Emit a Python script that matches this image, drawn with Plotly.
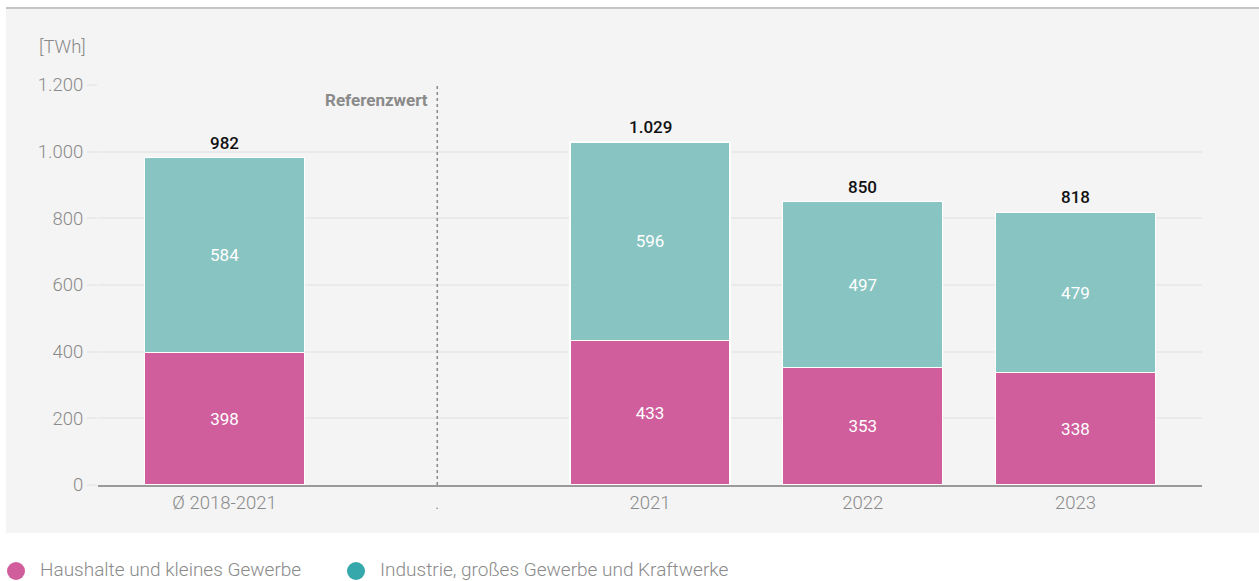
import plotly.graph_objects as go

categories = ["Ø 2018-2021", ".", "2021", "2022", "2023"]
haushalte = [398, None, 433, 353, 338]
industrie = [584, None, 596, 497, 479]
totals = [982, None, 1029, 850, 818]
tick_vals = [0, 200, 400, 600, 800, 1000, 1200]
legend_names = ["Haushalte und kleines Gewerbe", "Industrie, großes Gewerbe und Kraftwerke"]

PINK = "#D05E9C"
TEAL = "#88C4C1"
TEAL_LEG = "#35A8AB"
GRAY = "#8A8A8A"
FONT = "Roboto"

# plot-area geometry (px) used to convert layout decorations to paper coords
L, R, T, B, W, H = 98, 57, 85, 96, 1259, 581
PW, PH = W - L - R, H - T - B


def px(x):
    return (x - L) / PW


def py(y):
    return (H - B - y) / PH


fig = go.Figure()
for vals, col in ((haushalte, PINK), (industrie, TEAL)):
    fig.add_trace(go.Bar(
        x=categories, y=vals, marker=dict(color=col, line=dict(color="white", width=1.2)),
        texttemplate="%{y}", textposition="inside", insidetextanchor="middle",
        textfont=dict(color="white", size=17, family=FONT, weight=400), showlegend=False,
        width=0.753, hoverinfo="skip"))

annotations = []
for i, t in enumerate(totals):
    if t is None:
        continue
    annotations.append(dict(
        x=i, y=t, xref="x", yref="y", text=f"{t:,}".replace(",", "."), showarrow=False,
        yanchor="bottom", yshift=3, font=dict(size=17, color="#111111", family=FONT, weight=500)))

annotations += [
    dict(text="[TWh]", xref="paper", yref="paper", x=px(37), y=py(47), xanchor="left",
         yanchor="middle", showarrow=False, font=dict(size=18.5, color=GRAY, weight=300)),
    dict(text="Referenzwert", xref="x", yref="y", x=1, y=1155,
         xanchor="right", yanchor="middle", xshift=-7, showarrow=False,
         font=dict(size=17, color=GRAY, weight=700)),
    dict(text=legend_names[0], xref="paper", yref="paper", x=px(38), y=py(569), xanchor="left",
         yanchor="middle", showarrow=False, font=dict(size=19, color=GRAY, weight=300)),
    dict(text=legend_names[1], xref="paper", yref="paper", x=px(378), y=py(569), xanchor="left",
         yanchor="middle", showarrow=False, font=dict(size=19, color=GRAY, weight=300)),
]

shapes = [
    dict(type="rect", xref="paper", yref="paper", x0=px(6), x1=px(1259), y0=py(533), y1=py(8),
         fillcolor="#F4F4F4", line=dict(width=0), layer="below"),
    dict(type="line", xref="paper", yref="paper", x0=px(6), x1=px(1259), y0=py(8), y1=py(8),
         line=dict(color="#C4C4C4", width=2)),
    dict(type="line", xref="x", yref="y", x0=1, x1=1, y0=0, y1=1200,
         line=dict(color=GRAY, width=1.5, dash="dot")),
    dict(type="circle", xref="paper", yref="paper", x0=px(7), x1=px(25), y0=py(580), y1=py(562),
         fillcolor=PINK, line=dict(width=0)),
    dict(type="circle", xref="paper", yref="paper", x0=px(347), x1=px(365), y0=py(580), y1=py(562),
         fillcolor=TEAL_LEG, line=dict(width=0)),
]

fig.update_layout(
    barmode="stack",
    width=W, height=H,
    margin=dict(l=L, r=R, t=T, b=B),
    paper_bgcolor="white",
    plot_bgcolor="#F4F4F4",
    separators=",.",
    font=dict(family=FONT, color=GRAY, size=18, weight=300),
    showlegend=False,
    xaxis=dict(type="category", range=[-0.595, 4.595], showgrid=False, showline=True,
               linecolor="#9A9A9A", linewidth=1.5, ticks="", tickfont=dict(size=18.5, color=GRAY),
               fixedrange=True),
    yaxis=dict(range=[0, 1200], tickvals=tick_vals, showgrid=True, gridcolor="#EAEAEA", gridwidth=1.5,
               zeroline=False, ticks="outside", ticklen=10, tickcolor="#EAEAEA", tickwidth=1.5,
               tickfont=dict(size=18.5, color=GRAY), tickformat=",d", fixedrange=True),
    shapes=shapes,
    annotations=annotations,
)

fig.write_html("out.html", config={"displayModeBar": False},
               post_script="document.body.style.margin='0';")
